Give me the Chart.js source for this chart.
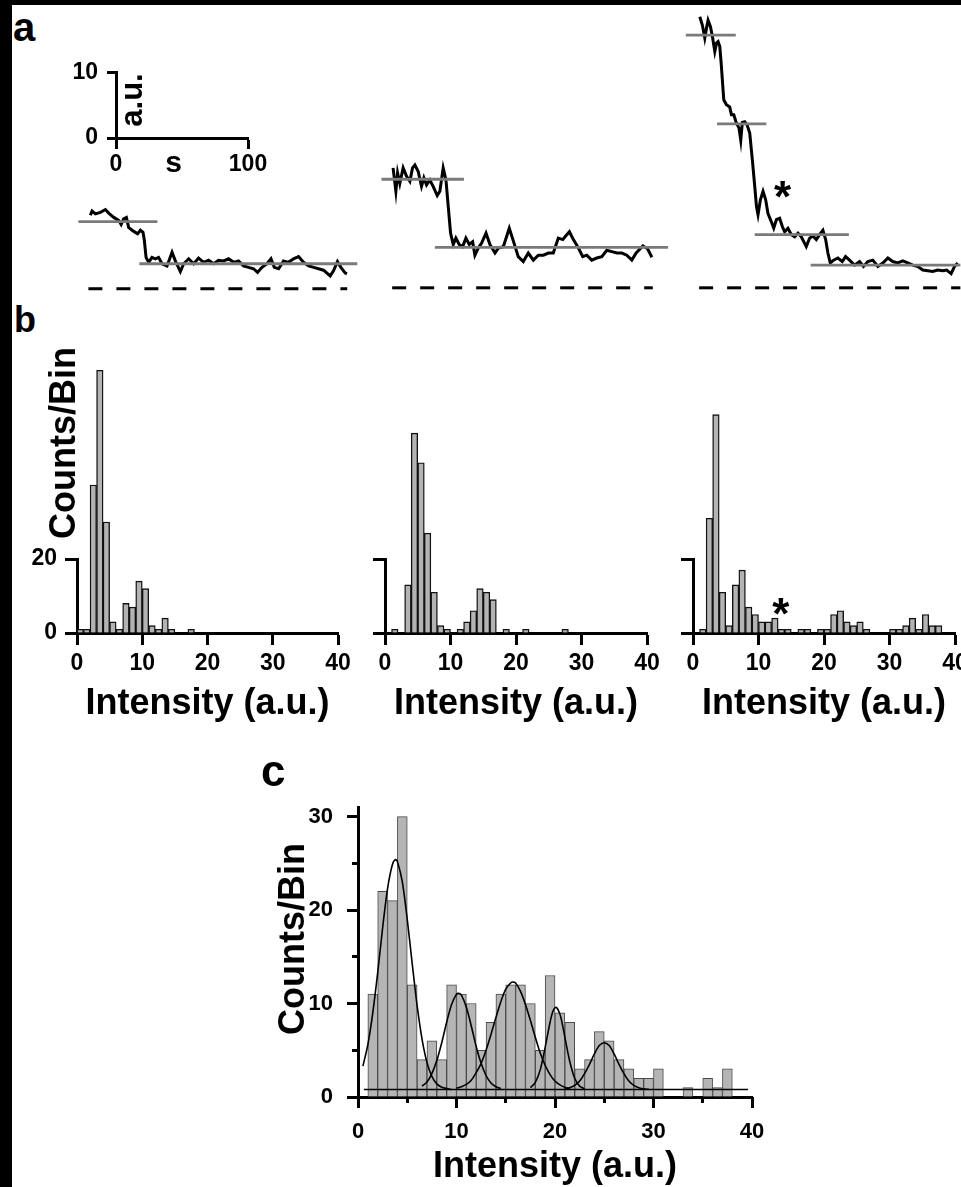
<!DOCTYPE html>
<html>
  <head>
    <title>Step photobleaching traces and intensity histograms</title>
    <script src="https://cdn.jsdelivr.net/npm/chart.js"></script>
    <style>
      body {
        margin: 0;
        width: 961px;
        height: 1187px;
        overflow: hidden;
        position: relative;
        background: #000;
        font-family: "Liberation Sans", Arial, sans-serif;
      }
      #sheet { position: absolute; left: 12px; top: 5px; width: 949px; height: 1182px; background: #fff; }
      canvas { position: absolute; }
      .lbl { position: absolute; font-weight: bold; line-height: 1; white-space: nowrap; color: #000; }
    </style>
  </head>

  <body>
    <div id="sheet"></div>

    <script>
      // ---- panel a: intensity traces, [time (s), intensity (a.u.)]
      var trace1 = [[0,10.3],[1.3,10.9],[3.8,10.5],[7.6,10.7],[11.4,11.1],[13.9,10.6],[17.7,10.0],[21.4,9.6],[23.3,9.0],[25.2,9.8],[27.3,10.0],[29.0,8.6],[31.6,8.2],[34.1,7.9],[35.8,7.7],[37.9,8.2],[39.9,7.9],[40.9,6.8],[42.2,4.4],[44.2,3.7],[46.7,4.4],[49.2,4.2],[51.7,4.4],[54.3,3.5],[58.1,3.2],[61.9,5.1],[64.4,3.9],[68.2,2.4],[70.7,3.5],[74.5,4.2],[78.3,3.5],[82.0,4.3],[85.8,3.7],[89.6,4.0],[93.4,3.5],[97.2,4.0],[101.0,3.9],[104.8,4.2],[108.6,3.7],[112.3,3.9],[116.1,3.2],[119.9,3.0],[123.7,2.8],[126.7,2.3],[130.1,3.0],[133.9,3.5],[136.9,4.2],[139.4,3.0],[142.7,2.8],[146.4,3.9],[150.2,3.7],[154.0,4.2],[157.8,4.5],[161.6,3.7],[165.4,3.2],[169.2,3.0],[173.0,2.8],[176.7,2.6],[181.8,1.8],[184.3,2.5],[187.3,3.8],[189.9,3.0],[193.2,2.2],[194.5,2.1]];
      var trace2 = [[0.2,16.9],[2.3,13.6],[3.6,16.2],[5.3,14.7],[7.8,16.9],[10.4,15.7],[12.9,15.0],[14.9,16.9],[16.7,17.3],[19.2,16.4],[21.7,14.3],[23.5,15.5],[25.5,14.5],[28.0,15.2],[30.5,14.3],[33.6,13.0],[35.6,13.6],[38.1,16.9],[40.2,15.2],[41.9,11.5],[43.7,7.7],[45.7,6.1],[47.7,7.0],[50.2,6.1],[52.8,5.8],[55.3,7.0],[57.8,6.1],[60.4,6.5],[62.1,4.6],[64.6,5.6],[67.2,6.3],[70.5,7.7],[73.5,6.1],[77.3,4.9],[79.8,5.6],[83.6,5.8],[88.1,8.4],[91.7,6.3],[94.9,4.4],[98.7,3.7],[102.5,4.9],[106.3,3.9],[110.1,4.6],[113.9,4.6],[117.7,4.9],[121.4,4.9],[125.2,7.0],[128.6,6.8],[130.3,7.2],[133.6,7.9],[136.6,6.8],[140.4,5.6],[143.7,4.4],[146.7,4.6],[150.5,3.9],[154.3,4.2],[158.1,4.4],[161.9,5.3],[165.7,5.1],[169.5,4.9],[173.3,4.9],[177.0,4.6],[180.8,3.9],[184.1,4.9],[189.2,5.9],[192.7,5.5],[196.0,4.3]];
      var trace3 = [[0,38.2],[2.0,37.0],[3.8,35.2],[5.1,36.6],[6.3,37.7],[8.1,36.8],[9.6,35.4],[11.4,33.3],[12.7,34.5],[13.9,34.7],[15.2,34.0],[16.4,31.2],[18.2,26.5],[20.2,25.8],[22.7,25.5],[24.0,24.4],[25.8,24.4],[27.8,23.2],[29.8,22.5],[31.1,20.8],[32.3,23.3],[34.1,23.4],[35.8,23.0],[37.9,21.8],[39.9,18.0],[41.7,14.3],[43.0,11.5],[44.2,10.3],[46.0,12.4],[48.0,13.6],[50.0,12.4],[51.7,10.5],[54.3,9.3],[56.1,8.4],[58.1,9.6],[60.6,9.8],[62.7,8.6],[64.4,7.9],[66.9,8.4],[69.5,7.5],[72.0,7.2],[74.5,7.7],[77.0,7.2],[80.8,5.8],[83.3,7.0],[85.8,7.3],[88.4,6.8],[90.9,7.5],[93.4,8.1],[95.5,6.8],[97.2,4.9],[99.0,3.5],[101.5,3.9],[104.8,4.2],[108.1,3.7],[110.6,4.4],[113.6,3.9],[117.4,3.2],[121.2,3.7],[124.2,3.0],[127.5,3.7],[131.3,3.9],[135.1,3.0],[138.9,3.5],[142.7,4.2],[146.4,3.7],[150.2,3.5],[154.0,3.8],[157.8,3.5],[161.6,3.2],[165.4,3.0],[169.2,2.5],[173.0,2.4],[176.7,2.3],[180.5,2.5],[184.3,2.4],[187.3,2.5],[190.7,2.0],[193.2,3.0],[195.7,3.5]];

      // fitted step levels, [t start, t end, level]
      var trace1Levels = [[-9.1, 50.8, 9.4], [37.1, 202.3, 3.5]];
      var trace2Levels = [[-8.6, 53.8, 15.3], [31.8, 208.3, 5.7]];
      var trace3Levels = [[-10.6, 27.3, 35.6], [13.1, 50.5, 23.1], [41.7, 113.1, 7.5], [84.1, 197.7, 3.2]];
      // zero line, [t start, t end]
      var trace1Zero = [-1.5, 194.7];
      var trace2Zero = [-0.5, 196.7];
      var trace3Zero = [-0.5, 197.7];

      // ---- panel b: counts per 1 a.u. bin, bins 0-1 ... 39-40
      var histB1 = [1,1,40,71,30,3,1,8,7,14,12,2,1,4,1,0,0,1,0,0, 0,0,0,0,0,0,0,0,0,0, 0,0,0,0,0,0,0,0,0,0];
      var histB2 = [0,1,0,13,54,46,27,11,2,1,0,1,3,6,12,11,9,0,1,0, 0,1,0,0,0,0,0,1,0,0, 0,0,0,0,0,0,0,0,0,0];
      var histB3 = [0,1,31,59,11,2,13,17,7,5,3,3,4,1,1,0,1,1,0,1, 1,5,6,3,2,3,1,0,0,0, 1,1,2,4,1,5,2,2,0,0];

      // ---- panel c: pooled histogram and gaussian fits
      var histC = [0,11,22,21,30,12,4,6,4,12,11,10,5,8,11,12,12,10,5,13, 9,8,3,4,7,6,4,3,2,2, 3,0,0,1,0,2,1,3,0,0];
      var gaussFit1 = [[0.5,3.3],[1,5.6],[1.5,9.0],[2,13.3],[2.5,18.1],[3,22.3],[3.5,24.9],[3.8,25.4],[4,25.2],[4.5,23.0],[5,19.0],[5.5,14.3],[6,9.8],[6.5,6.2],[7,3.7],[7.5,2.2],[8,1.4],[8.5,1.05],[9,0.9],[9.5,0.8]];
      var gaussFit2 = [[6.5,1.15],[7,1.6],[7.5,2.5],[8,3.9],[8.5,5.8],[9,8.0],[9.5,9.9],[10,11.0],[10.2,11.1],[10.5,10.9],[11,9.6],[11.5,7.6],[12,5.4],[12.5,3.6],[13,2.3],[13.5,1.5],[14,1.1],[14.5,0.9]];
      var gaussFit3 = [[10,0.93],[10.5,1.1],[11,1.35],[11.5,1.8],[12,2.6],[12.5,3.6],[13,5.0],[13.5,6.7],[14,8.5],[14.5,10.2],[15,11.55],[15.5,12.2],[15.7,12.3],[16,12.2],[16.5,11.3],[17,9.9],[17.5,8.2],[18,6.4],[18.5,4.7],[19,3.4],[19.5,2.4],[20,1.7],[20.5,1.3],[21,1.05],[21.5,0.9]];
      var gaussFit4 = [[17.5,1.0],[18,1.56],[18.5,2.9],[19,5.3],[19.5,8.0],[19.8,9.2],[20.1,9.6],[20.5,8.85],[20.8,7.5],[21,6.4],[21.5,3.8],[22,2.0],[22.5,1.16],[23,0.88]];
      var gaussFit5 = [[21,0.87],[21.5,1.0],[22,1.24],[22.5,1.7],[23,2.5],[23.5,3.5],[24,4.6],[24.5,5.5],[25,5.8],[25.5,5.5],[26,4.6],[26.5,3.5],[27,2.5],[27.5,1.7],[28,1.24],[28.5,1.0],[29,0.87],[29.5,0.82]];
      var fitOffset = 0.8;
      var fitRange = [0.6, 39.6];

      Chart.defaults.font.family = '"Liberation Sans", Arial, sans-serif';
      Chart.defaults.font.size = 23;
      Chart.defaults.font.weight = "bold";
      Chart.defaults.color = "#000";
      Chart.defaults.animation = false;
      Chart.defaults.events = [];
      Chart.defaults.plugins.legend.display = false;
      Chart.defaults.plugins.tooltip.enabled = false;

      function addCanvas(left, top, width, height) {
        var c = document.createElement("canvas");
        c.width = Math.round(width);
        c.height = Math.round(height);
        c.style.left = Math.round(left) + "px";
        c.style.top = Math.round(top) + "px";
        c.style.width = c.width + "px";
        c.style.height = c.height + "px";
        document.body.appendChild(c);
        return c.getContext("2d");
      }

      function addText(text, left, top, size, transform) {
        var d = document.createElement("div");
        d.className = "lbl";
        d.textContent = text;
        d.style.left = left + "px";
        d.style.top = top + "px";
        d.style.fontSize = size + "px";
        if (transform) d.style.transform = transform;
        document.body.appendChild(d);
      }

      function pts(list) {
        return list.map(function (p) { return { x: p[0], y: p[1] }; });
      }

      function binPoints(counts) {
        var out = [];
        counts.forEach(function (c, i) {
          if (c > 0) out.push({ x: i + 0.5, y: c });
        });
        return out;
      }

      // one axis with fixed box size so chart areas line up with the figure
      function axis(o) {
        return {
          type: "linear",
          position: o.position,
          weight: o.weight || 0,
          min: o.min,
          max: o.max,
          offset: false,
          afterFit: function (s) {
            if (o.position === "left") s.width = o.size;
            else s.height = o.size;
          },
          border: { display: o.border !== false, width: 3, color: "#000" },
          grid: { drawOnChartArea: false, offset: false, tickLength: o.tick, tickWidth: 3, tickColor: "#000" },
          ticks: {
            stepSize: o.step,
            includeBounds: false,
            display: o.labels !== false,
            padding: o.pad || 0,
            autoSkip: false,
            maxRotation: 0,
            font: { size: o.font || 23, weight: "bold" },
          },
        };
      }

      // ---- panel a
      var PX_PER_S = 1.32, PX_PER_AU = 7.1, ZERO_Y = 288;

      function traceChart(originX, tMin, tMax, vMin, vMax, trace, levels, zero) {
        var ctx = addCanvas(originX + tMin * PX_PER_S, ZERO_Y - vMax * PX_PER_AU,
          (tMax - tMin) * PX_PER_S, (vMax - vMin) * PX_PER_AU);
        var sets = levels.map(function (l) {
          return { data: [{ x: l[0], y: l[2] }, { x: l[1], y: l[2] }], borderColor: "#7a7a7a", borderWidth: 2.8 };
        });
        sets.push({ data: pts(trace), borderColor: "#000", borderWidth: 3 });
        sets.push({ data: [{ x: zero[0], y: 0 }, { x: zero[1], y: 0 }], borderColor: "#000", borderWidth: 3, borderDash: [14, 14] });
        sets.forEach(function (s) {
          s.showLine = true;
          s.pointRadius = 0;
          s.tension = 0;
          s.clip = false;
        });
        new Chart(ctx, {
          type: "scatter",
          data: { datasets: sets },
          options: {
            responsive: false,
            layout: { padding: 0 },
            scales: {
              x: { type: "linear", display: false, min: tMin, max: tMax },
              y: { type: "linear", display: false, min: vMin, max: vMax },
            },
          },
        });
      }

      traceChart(90, -20, 215, -2, 13, trace1, trace1Levels, trace1Zero);
      traceChart(393, -15, 215, -2, 19, trace2, trace2Levels, trace2Zero);
      traceChart(700, -15, 205, -2, 40, trace3, trace3Levels, trace3Zero);

      // scale bar: 10 a.u. by 100 s
      new Chart(addCanvas(60, 50, 230, 140), {
        type: "scatter",
        data: { datasets: [{ data: [] }] },
        options: {
          responsive: false,
          layout: { padding: { top: 17, right: 42, left: 0, bottom: 0 } },
          scales: {
            x: axis({ position: "bottom", min: 0, max: 100, step: 100, size: 52, tick: 11, pad: 2 }),
            y: axis({ position: "left", min: 0, max: 10, step: 10, size: 56, tick: 9, pad: 9 }),
          },
        },
      });

      // ---- panel b
      function histB(x0, x40, counts, showY) {
        var yW = 57, padR = 22;
        var ctx = addCanvas(x0 - yW, 340, yW + (x40 - x0) + padR, 350);
        new Chart(ctx, {
          type: "bar",
          data: {
            datasets: [{
              data: binPoints(counts),
              backgroundColor: "#b3b3b3",
              borderColor: "#111",
              borderWidth: 1.4,
              barPercentage: 1,
              categoryPercentage: 1,
              clip: false,
            }],
          },
          options: {
            responsive: false,
            layout: { padding: { top: 219, right: padR, left: 0, bottom: 0 } },
            scales: {
              x: axis({ position: "bottom", min: 0, max: 40, step: 10, size: 57, tick: 12, pad: 5 }),
              y: axis({ position: "left", min: 0, max: 20, step: 20, size: yW, tick: 12, pad: 8, labels: showY }),
            },
          },
        });
      }

      histB(77, 338, histB1, true);
      histB(385, 647, histB2, false);
      histB(693, 955, histB3, false);

      // ---- panel c
      function fitLine(list) {
        return { type: "line", data: pts(list), borderColor: "#000", borderWidth: 1.6, pointRadius: 0, tension: 0.3, order: 0 };
      }

      new Chart(addCanvas(260, 780, 520, 400), {
        type: "bar",
        data: {
          datasets: [
            fitLine(gaussFit1), fitLine(gaussFit2), fitLine(gaussFit3), fitLine(gaussFit4), fitLine(gaussFit5),
            fitLine([[fitRange[0], fitOffset], [fitRange[1], fitOffset]]),
            {
              type: "bar",
              data: binPoints(histC),
              backgroundColor: "#b5b5b5",
              borderColor: "#4a4a4a",
              borderWidth: 1,
              barPercentage: 1,
              categoryPercentage: 1,
              order: 1,
            },
          ],
        },
        options: {
          responsive: false,
          layout: { padding: { top: 27, right: 28, left: 0, bottom: 0 } },
          scales: {
            x: axis({ position: "bottom", weight: 1, min: 0, max: 40, step: 10, size: 83, tick: 11, pad: 11, font: 22 }),
            xMinor: axis({ position: "bottom", weight: 0, min: 0, max: 40, step: 5, size: 0, tick: 6, labels: false, border: false }),
            y: axis({ position: "left", weight: 1, min: 0, max: 31, step: 10, size: 98, tick: 11, pad: 14, font: 22 }),
            yMinor: axis({ position: "left", weight: 0, min: 0, max: 31, step: 5, size: 0, tick: 6, labels: false, border: false }),
          },
        },
      });

      // ---- text
      addText("a", 13, 7, 40);
      addText("b", 14, 302, 36);
      addText("c", 261, 749, 44);

      addText("s", 173.5, 146.6, 30, "translateX(-50%)");
      addText("a.u.", 131, 100, 31, "translate(-50%,-50%) rotate(-90deg)");
      addText("*", 782.5, 175.3, 44, "translateX(-50%)");

      addText("Counts/Bin", 63.3, 443, 36, "translate(-50%,-50%) rotate(-90deg)");
      addText("Intensity (a.u.)", 207.5, 683.5, 36, "translateX(-50%)");
      addText("Intensity (a.u.)", 516, 683.5, 36, "translateX(-50%)");
      addText("Intensity (a.u.)", 824, 683.5, 36, "translateX(-50%)");
      addText("*", 780.8, 592, 44, "translateX(-50%)");

      addText("Counts/Bin", 291.5, 939, 36, "translate(-50%,-50%) rotate(-90deg)");
      addText("Intensity (a.u.)", 555, 1147, 36, "translateX(-50%)");
    </script>
  </body>
</html>
